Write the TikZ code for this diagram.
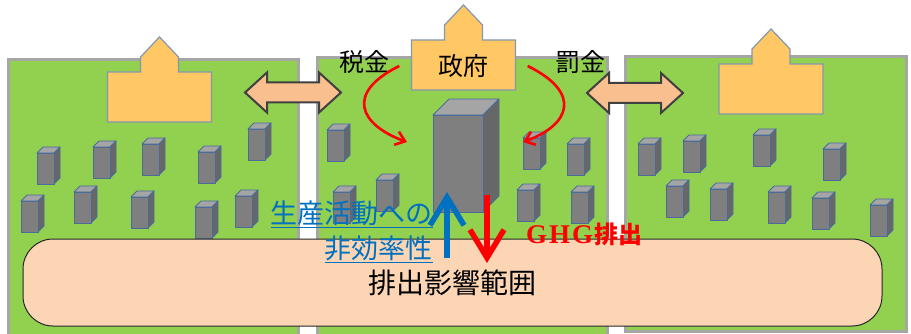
\documentclass[tikz,border=0pt]{standalone}
\usepackage{fontspec}
\newfontfamily\jp{Noto Sans CJK JP}
\newfontfamily\latin{Liberation Serif}
\usetikzlibrary{arrows.meta}
\definecolor{field}{HTML}{92D050}
\definecolor{panelgray}{HTML}{A6A6A6}
\definecolor{hallfill}{HTML}{FFC864}
\definecolor{hallline}{HTML}{8497B0}
\definecolor{tradefill}{HTML}{F9BF8F}
\definecolor{tradeline}{HTML}{404040}
\definecolor{rangefill}{HTML}{FCD5B4}
\definecolor{rangeline}{HTML}{262626}
\definecolor{bldgfront}{HTML}{7F7F7F}
\definecolor{bldgside}{HTML}{676767}
\definecolor{bldgtop}{HTML}{A5A5A5}
\definecolor{bldgline}{HTML}{4A6C99}
\definecolor{flowblue}{HTML}{0070C0}
\tikzstyle{panel}=[draw=panelgray, line width=3pt, fill=field]
\tikzstyle{hall}=[draw=hallline, line width=1.2pt, fill=hallfill]
\tikzstyle{trade}=[draw=tradeline, line width=2pt, fill=tradefill, line join=miter]
\tikzstyle{face}=[draw=bldgline, line width=0.8pt, line join=round]
\tikzstyle{every node}=[font=\jp]
\tikzstyle{label}=[font=\jp\fontsize{25}{25}\selectfont]
\tikzstyle{fineflow}=[red, line width=2.6pt, -{Straight Barb[length=9pt,width=14pt]}]
\tikzstyle{push}=[line width=5.5pt, -{Straight Barb[length=28pt,width=34pt]}]

% x, y of the front top corner, width, height, depth
\newcommand{\mkbldg}[5]{%
  \filldraw[face, fill=bldgtop] (#1,#2) -- ++(#5,-#5) -- ++(#3,0) -- ++(-#5,#5) -- cycle;
  \filldraw[face, fill=bldgside] ({#1+#3},#2) -- ++(#5,-#5) -- ++(0,#4) -- ++(-#5,#5) -- cycle;
  \filldraw[face, fill=bldgfront] (#1,#2) rectangle ++(#3,#4);}
\newcommand{\bldg}[2]{\mkbldg{#1}{#2}{17}{31}{6}}
% centre x, top of the base
\newcommand{\govhall}[2]{%
  \filldraw[hall] ({#1-52},{#2+50}) -- ++(0,-50) -- ++(33,0) -- ++(0,-15) -- ++(19,-20)
    -- ++(19,20) -- ++(0,15) -- ++(33,0) -- ++(0,50) -- cycle;}
% centre of a two-way arrow
\newcommand{\trade}[2]{%
  \filldraw[trade] ({#1-48},#2) -- ++(22,-20) -- ++(0,10) -- ++(52,0) -- ++(0,-10)
    -- ++(22,20) -- ++(-22,20) -- ++(0,-10) -- ++(-52,0) -- ++(0,10) -- cycle;}

\begin{document}
\begin{tikzpicture}[x=1pt, y=-1pt]
  \useasboundingbox (0,0) rectangle (911,334);
  % the three regions
  \filldraw[panel] (8,60) rectangle (298,340);
  \filldraw[panel] (317,58) rectangle (607,340);
  \filldraw[panel] (625,57) rectangle (906,331);

  \govhall{159.5}{72}
  \govhall{463.5}{40}
  \govhall{771}{64}
  \trade{293}{92.5}
  \trade{635}{93}

  % factories
  \bldg{37}{153} \bldg{93}{147} \bldg{142}{144} \bldg{198}{152} \bldg{248}{129}
  \bldg{21}{201} \bldg{74}{192} \bldg{131}{197} \bldg{195}{207} \bldg{235}{196}
  \bldg{327}{130} \bldg{376}{180} \bldg{333}{192}
  \bldg{523}{138} \bldg{567}{144} \bldg{517}{190} \bldg{571}{192}
  \bldg{638}{144} \bldg{683}{141} \bldg{753}{135} \bldg{823}{149}
  \bldg{666}{186} \bldg{710}{189} \bldg{768}{192} \bldg{812}{198} \bldg{870}{205}
  \mkbldg{433}{115}{50}{97}{16}

  \node[draw=rangeline, line width=1pt, fill=rangefill, rounded corners=30pt,
    minimum width=859pt, minimum height=87pt, inner sep=0pt,
    font=\jp\fontsize{28}{28}\selectfont] (range) at (452.5,282.5) {排出影響範囲};

  \node[label, minimum width=104pt, minimum height=50pt, inner sep=0pt] (gov) at (463.5,66) {政府};
  \node[label] (tax) at (364.5,62) {税金};
  \node[label] (fine) at (580.5,62) {罰金};

  \coordinate (taxend) at (407,142);
  \coordinate (fineend) at (523,142);
  \draw[fineflow] ([xshift=-12pt]gov.west) .. controls +(-55,27) and +(-47,-17) .. (taxend);
  \draw[fineflow] ([xshift=12pt]gov.east) .. controls +(55,27) and +(47,-17) .. (fineend);

  \coordinate (upfoot) at (447,258);
  \coordinate (uptip) at (447,192);
  \coordinate (downtop) at (487,195);
  \coordinate (downtip) at (487,263);
  \draw[push, flowblue] (upfoot) -- (uptip);
  \draw[push, red] (downtop) -- (downtip);

  \node[flowblue, anchor=east, align=right, inner sep=0pt,
    font=\jp\fontsize{27}{35}\selectfont] (ineff) at (433,232)
    {\underline{生産活動への}\\\underline{非効率性}};
  \node[red, inner sep=0pt, font=\jp\bfseries\fontsize{24}{24}\selectfont] (ghg) at (584,234)
    {{\latin\bfseries\fontsize{27}{27}\selectfont G\kern2pt H\kern2pt G}\kern1pt 排出};
\end{tikzpicture}
\end{document}
